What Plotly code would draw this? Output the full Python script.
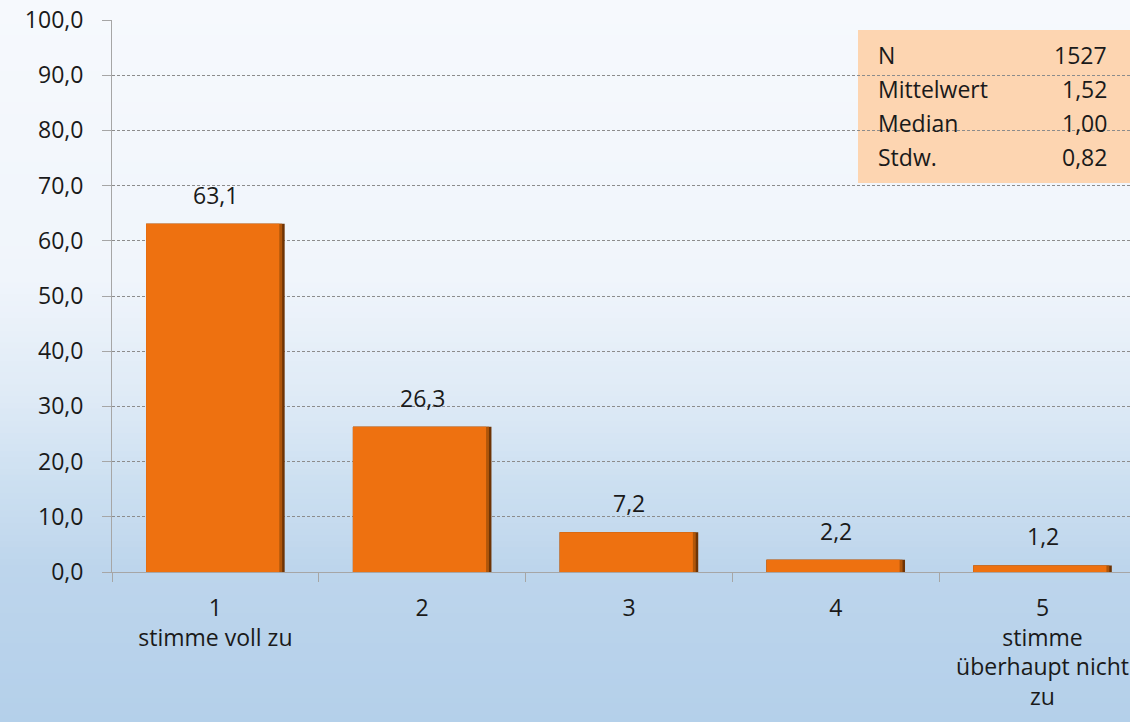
import plotly.graph_objects as go

categories = ["1<br>stimme voll zu", "2", "3", "4", "5<br>stimme<br>überhaupt nicht<br>zu"]
values = [63.1, 26.3, 7.2, 2.2, 1.2]
stat_labels = ["N", "Mittelwert", "Median", "Stdw."]
stat_values = ["1527", "1,52", "1,00", "0,82"]

FONT = "Open Sans"
FS = 23
TXT = "#1a1a1a"
W, H = 1130, 722
L, T, B = 112, 20, 150
plot_h = H - T - B
plot_w = W - L

BW = 0.67

fig = go.Figure()
# bevelled bar look: dark base, mid layer, orange face (left aligned)
for w_off, col in [(0.0, "#6e3405"), (0.012, "#b0560a"), (0.026, "#EE7110")]:
    fig.add_trace(go.Bar(
        x=categories, y=values, width=BW - w_off, offset=-BW / 2,
        marker=dict(color=col, line=dict(width=0)),
        hoverinfo="skip",
    ))

def px(x):
    return (x - L) / plot_w
def py(y):
    return (H - B - y) / plot_h

annotations = []
for i, v in enumerate(values):
    annotations.append(dict(x=i, y=v, xref="x", yref="y",
                            text=f"{v:.1f}".replace(".", ","),
                            showarrow=False, yanchor="bottom", yshift=11,
                            font=dict(family=FONT, size=FS, color=TXT)))

# background gradient (vertical)
def lerp(c1, c2, t):
    return tuple(round(a + (b - a) * t) for a, b in zip(c1, c2))

stops = [(0, (246, 249, 253)), (280, (240, 245, 251)), (400, (222, 234, 246)),
         (480, (205, 224, 241)), (570, (189, 213, 236)), (722, (180, 208, 234))]
shapes = []
N = 120
for i in range(N):
    y0p = H * i / N
    y1p = H * (i + 1) / N
    pm = (y0p + y1p) / 2
    c = stops[-1][1]
    for j in range(len(stops) - 1):
        if stops[j][0] <= pm <= stops[j + 1][0]:
            t = (pm - stops[j][0]) / (stops[j + 1][0] - stops[j][0])
            c = lerp(stops[j][1], stops[j + 1][1], t)
            break
    shapes.append(dict(type="rect", xref="paper", yref="paper",
                       x0=-0.2, x1=1.2,
                       y0=py(y1p) - 0.001, y1=py(y0p) + 0.001,
                       fillcolor="rgb(%d,%d,%d)" % c, line=dict(width=0), layer="below"))

# stats box
shapes.append(dict(type="rect", xref="paper", yref="paper",
                   x0=px(858), x1=px(1140), y0=py(183), y1=py(30),
                   fillcolor="#FDD5B1", line=dict(width=0), layer="between"))

rows_y = [55, 89, 123, 157]
for lab, val, ry in zip(stat_labels, stat_values, rows_y):
    annotations.append(dict(xref="paper", yref="paper", x=px(876), y=py(ry), text=lab,
                            xanchor="left", yanchor="middle", showarrow=False,
                            font=dict(family=FONT, size=FS, color=TXT)))
    annotations.append(dict(xref="paper", yref="paper", x=px(1109), y=py(ry), text=val,
                            xanchor="right", yanchor="middle", showarrow=False,
                            font=dict(family=FONT, size=FS, color=TXT)))

fig.update_layout(
    width=W, height=H,
    margin=dict(l=L, r=0, t=T, b=B),
    paper_bgcolor="#f5f9fd",
    plot_bgcolor="rgba(0,0,0,0)",
    separators=",.",
    showlegend=False,
    barmode="overlay",
    shapes=shapes,
    annotations=annotations,
)
fig.update_xaxes(
    type="category", categoryorder="array", categoryarray=categories,
    range=[-0.5, 4.423], tickson="boundaries", ticks="outside", ticklen=9,
    tickcolor="#a6a6a6", showline=True, linecolor="#a6a6a6", linewidth=1,
    showgrid=False, zeroline=False, ticklabelstandoff=15,
    tickfont=dict(family=FONT, size=FS, color=TXT),
)
fig.update_yaxes(
    range=[0, 100], dtick=10, tickformat=".1f", ticks="outside", ticklen=9,
    tickcolor="#a6a6a6", showline=True, linecolor="#a6a6a6", linewidth=1,
    showgrid=True, gridcolor="#8c8c8c", griddash="3px,2px", gridwidth=1,
    zeroline=False, ticklabelstandoff=14,
    tickfont=dict(family=FONT, size=FS, color=TXT),
)

fig.write_html("out.html", config={"displayModeBar": False},
               post_script="document.body.style.margin='0';document.body.style.overflow='hidden';")
